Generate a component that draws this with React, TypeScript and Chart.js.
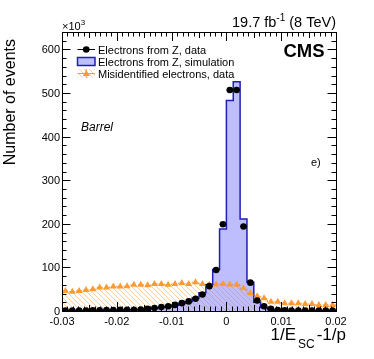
import React, { useEffect, useRef } from 'react';
import { Chart, registerables } from 'chart.js';

Chart.register(...registerables);

// ---- data ----
const X_MIN = -0.03;
const X_MAX = 0.02;
const BIN_WIDTH = 0.00125;
const Y_MAX = 640;

const xTickValues = [-0.03, -0.02, -0.01, 0, 0.01, 0.02];
const xTickLabels = ['-0.03', '-0.02', '-0.01', '0', '0.01', '0.02'];
const yTickValues = [0, 100, 200, 300, 400, 500, 600];
const yTickLabels = ['0', '100', '200', '300', '400', '500', '600'];

// Electrons from Z, data (x10^3 events per bin)
const zData = [
  1, 1, 1, 1, 1.5, 1.5, 2, 2, 2.5, 3,
  3, 3.5, 5, 7, 9, 11, 14, 18, 22, 28,
  38, 57, 94, 199, 507, 507, 194, 65, 24, 11,
  5, 2, 1.5, 1, 1, 1, 1, 1, 1, 1,
];
// Electrons from Z, simulation
const zSim = [
  1, 1, 1, 1, 1.5, 1.5, 2, 2, 2.5, 3,
  3, 3.5, 4.5, 6, 8, 10, 13, 17, 22, 30,
  42, 60, 95, 188, 483, 526, 211, 66, 20, 8,
  3, 1.5, 1, 1, 1, 1, 1, 1, 1, 1,
];
// Misidentified electrons, data
const misId = [
  46, 44, 46, 48, 50, 54, 54, 56, 56, 57,
  60, 60, 59, 62, 62, 60, 62, 64, 62, 66,
  62, 60, 61, 62, 61, 60, 52, 41, 34, 29,
  21, 21, 18, 18, 18, 16, 16, 14, 14, 14,
];

const N_BINS = zData.length;
const binEdges = Array.from({ length: N_BINS + 1 }, (_, i) => X_MIN + i * BIN_WIDTH);
const binCenters = Array.from({ length: N_BINS }, (_, i) => X_MIN + (i + 0.5) * BIN_WIDTH);

const FONT = '"Liberation Sans", Arial, Helvetica, sans-serif';
const ORANGE = '#ff9a33';
const BLUE_LINE = '#1f1fb4';
const BLUE_FILL = 'rgba(110,110,255,0.45)';

function stepPoints(vals: number[]) {
  return binEdges.map((e, i) => ({ x: e, y: vals[Math.min(i, vals.length - 1)] }));
}

function makeHatch(color: string): CanvasPattern | string {
  const c = document.createElement('canvas');
  c.width = 5;
  c.height = 5;
  const g = c.getContext('2d');
  if (!g) return color;
  g.strokeStyle = color;
  g.lineWidth = 1;
  g.beginPath();
  g.moveTo(-1, -1);
  g.lineTo(6, 6);
  g.moveTo(-1, 4);
  g.lineTo(1, 6);
  g.moveTo(4, -1);
  g.lineTo(6, 1);
  g.stroke();
  return g.createPattern(c, 'repeat') || color;
}

export default function App() {
  const ref = useRef<HTMLCanvasElement | null>(null);

  useEffect(() => {
    const canvas = ref.current;
    if (!canvas) return;
    const hatch = makeHatch('rgba(255,165,80,0.55)');

    const decor = {
      id: 'rootDecor',
      beforeDatasetDraw(chart: any, args: any) {
        if (args.index !== 0) return;
        const ctx = chart.ctx;
        const xs = chart.scales.x;
        const ys = chart.scales.y;
        ctx.save();
        ctx.strokeStyle = '#000';
        ctx.lineWidth = 1;
        ctx.beginPath();
        zData.forEach((v, i) => {
          const y = ys.getPixelForValue(v);
          ctx.moveTo(xs.getPixelForValue(binEdges[i]), y);
          ctx.lineTo(xs.getPixelForValue(binEdges[i + 1]), y);
        });
        ctx.stroke();
        ctx.restore();
      },
      afterDraw(chart: any) {
        const ctx = chart.ctx as CanvasRenderingContext2D;
        const xs = chart.scales.x;
        const ys = chart.scales.y;
        const a = chart.chartArea;
        ctx.save();
        // frame
        ctx.strokeStyle = '#000';
        ctx.lineWidth = 1;
        ctx.strokeRect(Math.round(a.left) + 0.5, Math.round(a.top) + 0.5, Math.round(a.right - a.left), Math.round(a.bottom - a.top));

        // x ticks (inside, top & bottom)
        ctx.beginPath();
        for (let k = 0; k <= 50; k++) {
          const v = X_MIN + k * 0.001;
          const px = Math.round(xs.getPixelForValue(v)) + 0.5;
          const len = k % 10 === 0 ? 9 : k % 5 === 0 ? 6 : 4.5;
          ctx.moveTo(px, a.bottom);
          ctx.lineTo(px, a.bottom - len);
          ctx.moveTo(px, a.top);
          ctx.lineTo(px, a.top + len);
        }
        // y ticks (inside, left & right)
        for (let v = 0; v <= Y_MAX; v += 20) {
          const py = Math.round(ys.getPixelForValue(v)) + 0.5;
          const len = v % 100 === 0 ? 8.5 : 4.5;
          ctx.moveTo(a.left, py);
          ctx.lineTo(a.left + len, py);
          ctx.moveTo(a.right, py);
          ctx.lineTo(a.right - len, py);
        }
        ctx.stroke();

        ctx.fillStyle = '#000';
        // tick labels
        ctx.font = `11px ${FONT}`;
        ctx.textAlign = 'center';
        ctx.textBaseline = 'alphabetic';
        xTickValues.forEach((v, i) => {
          ctx.fillText(xTickLabels[i], xs.getPixelForValue(v), 324.5);
        });
        ctx.textAlign = 'right';
        yTickValues.forEach((v, i) => {
          ctx.fillText(yTickLabels[i], 60, ys.getPixelForValue(v) + 4);
        });
        // x10^3
        ctx.textAlign = 'left';
        ctx.fillText('\u00d710', 62, 29.5);
        const w10 = ctx.measureText('\u00d710').width;
        ctx.font = `8px ${FONT}`;
        ctx.fillText('3', 62 + w10, 25);

        // y title
        ctx.save();
        ctx.font = `16px ${FONT}`;
        ctx.translate(15, 39);
        ctx.rotate(-Math.PI / 2);
        ctx.textAlign = 'right';
        ctx.fillText('Number of events', 0, 0);
        ctx.restore();

        // x title: 1/E_SC-1/p
        ctx.textAlign = 'left';
        ctx.font = `17px ${FONT}`;
        const p1 = '1/E';
        const p3 = '-1/p';
        const w1 = ctx.measureText(p1).width;
        const w3 = ctx.measureText(p3).width;
        ctx.font = `12px ${FONT}`;
        const w2 = ctx.measureText('SC').width;
        const gap = 2;
        let sx = 346 - (w1 + w2 + w3 + 2 * gap);
        ctx.font = `17px ${FONT}`;
        ctx.fillText(p1, sx, 340);
        sx += w1 + gap;
        ctx.font = `12px ${FONT}`;
        ctx.fillText('SC', sx, 347.5);
        sx += w2 + gap;
        ctx.font = `17px ${FONT}`;
        ctx.fillText(p3, sx, 340);

        // lumi label
        ctx.font = `14.5px ${FONT}`;
        const l1 = '19.7 fb';
        const l3 = ' (8 TeV)';
        const lw1 = ctx.measureText(l1).width;
        const lw3 = ctx.measureText(l3).width;
        ctx.font = `10px ${FONT}`;
        const lw2 = ctx.measureText('-1').width;
        let lx = 336 - (lw1 + lw2 + lw3);
        ctx.font = `14.5px ${FONT}`;
        ctx.fillText(l1, lx, 26.5);
        lx += lw1;
        ctx.font = `10px ${FONT}`;
        ctx.fillText('-1', lx, 20.5);
        lx += lw2;
        ctx.font = `14.5px ${FONT}`;
        ctx.fillText(l3, lx, 26.5);

        // CMS
        ctx.font = `bold 18.5px ${FONT}`;
        ctx.textAlign = 'right';
        ctx.fillText('CMS', 324.5, 56.7);

        // Barrel, e)
        ctx.textAlign = 'left';
        ctx.font = `italic 12px ${FONT}`;
        ctx.fillText('Barrel', 81, 131);
        ctx.font = `11px ${FONT}`;
        ctx.fillText('e)', 311, 166);

        // legend
        const lx0 = 77.5;
        const lx1 = 95;
        const lcx = (lx0 + lx1) / 2;
        const labels = chart.data.datasets;
        const rows = [
          { label: labels[0].label, y: 49.5 },
          { label: labels[2].label, y: 61.5 },
          { label: labels[1].label, y: 73.5 },
        ];
        // row 1: data
        ctx.beginPath();
        ctx.strokeStyle = '#000';
        ctx.lineWidth = 1;
        ctx.moveTo(lx0, rows[0].y);
        ctx.lineTo(lx1, rows[0].y);
        ctx.stroke();
        ctx.beginPath();
        ctx.fillStyle = '#000';
        ctx.arc(lcx, rows[0].y, 3.3, 0, Math.PI * 2);
        ctx.fill();
        // row 2: sim box
        ctx.fillStyle = BLUE_FILL;
        ctx.fillRect(lx0, 57.5, lx1 - lx0, 8);
        ctx.strokeStyle = BLUE_LINE;
        ctx.lineWidth = 1.5;
        ctx.strokeRect(lx0, 57.5, lx1 - lx0, 8);
        // row 3: mis-id
        ctx.fillStyle = hatch as any;
        ctx.fillRect(lx0, 69, lx1 - lx0, 9);
        ctx.strokeStyle = ORANGE;
        ctx.lineWidth = 1;
        ctx.beginPath();
        ctx.moveTo(lx0, rows[2].y);
        ctx.lineTo(lx1, rows[2].y);
        ctx.moveTo(lcx, 69);
        ctx.lineTo(lcx, 78);
        ctx.stroke();
        ctx.fillStyle = ORANGE;
        ctx.beginPath();
        ctx.moveTo(lcx, rows[2].y - 3.6);
        ctx.lineTo(lcx + 3.5, rows[2].y + 2.4);
        ctx.lineTo(lcx - 3.5, rows[2].y + 2.4);
        ctx.closePath();
        ctx.fill();

        ctx.fillStyle = '#000';
        ctx.font = `11px ${FONT}`;
        ctx.textAlign = 'left';
        rows.forEach((r) => ctx.fillText(r.label, 98, r.y + 4));
        ctx.restore();
      },
    };

    const chart = new Chart(canvas, {
      type: 'line',
      data: {
        datasets: [
          {
            label: 'Electrons from Z, data',
            type: 'scatter',
            data: binCenters.map((x, i) => ({ x, y: zData[i] })),
            showLine: false,
            pointRadius: 3.3,
            pointBackgroundColor: '#000',
            pointBorderWidth: 0,
            order: 0,
          } as any,
          {
            label: 'Misidentified electrons, data',
            type: 'scatter',
            data: binCenters.map((x, i) => ({ x, y: misId[i] })),
            showLine: false,
            pointStyle: 'triangle',
            pointRadius: 4,
            pointBackgroundColor: ORANGE,
            pointBorderColor: ORANGE,
            pointBorderWidth: 0,
            order: 1,
          } as any,
          {
            label: 'Electrons from Z, simulation',
            data: stepPoints(zSim),
            stepped: true,
            borderColor: BLUE_LINE,
            borderWidth: 1.5,
            backgroundColor: BLUE_FILL,
            fill: 'origin',
            pointRadius: 0,
            order: 2,
          } as any,
          {
            label: 'Misidentified electrons, band',
            data: stepPoints(misId),
            stepped: true,
            borderColor: ORANGE,
            borderWidth: 1,
            borderDash: [2, 2],
            backgroundColor: hatch,
            fill: 'origin',
            pointRadius: 0,
            order: 3,
          } as any,
        ],
      },
      options: {
        responsive: false,
        animation: false,
        devicePixelRatio: 1,
        layout: { padding: { left: 62, right: 38, top: 32, bottom: 48 } },
        plugins: { legend: { display: false }, tooltip: { enabled: false } },
        scales: {
          x: { type: 'linear', min: X_MIN, max: X_MAX, display: false },
          y: { type: 'linear', min: 0, max: Y_MAX, display: false },
        },
      },
      plugins: [decor],
    });
    return () => chart.destroy();
  }, []);

  return (
    <div style={{ position: 'absolute', left: 0, top: 0, width: 374, height: 359, background: '#fff' }}>
      <canvas ref={ref} width={374} height={359} style={{ display: 'block' }} />
    </div>
  );
}
